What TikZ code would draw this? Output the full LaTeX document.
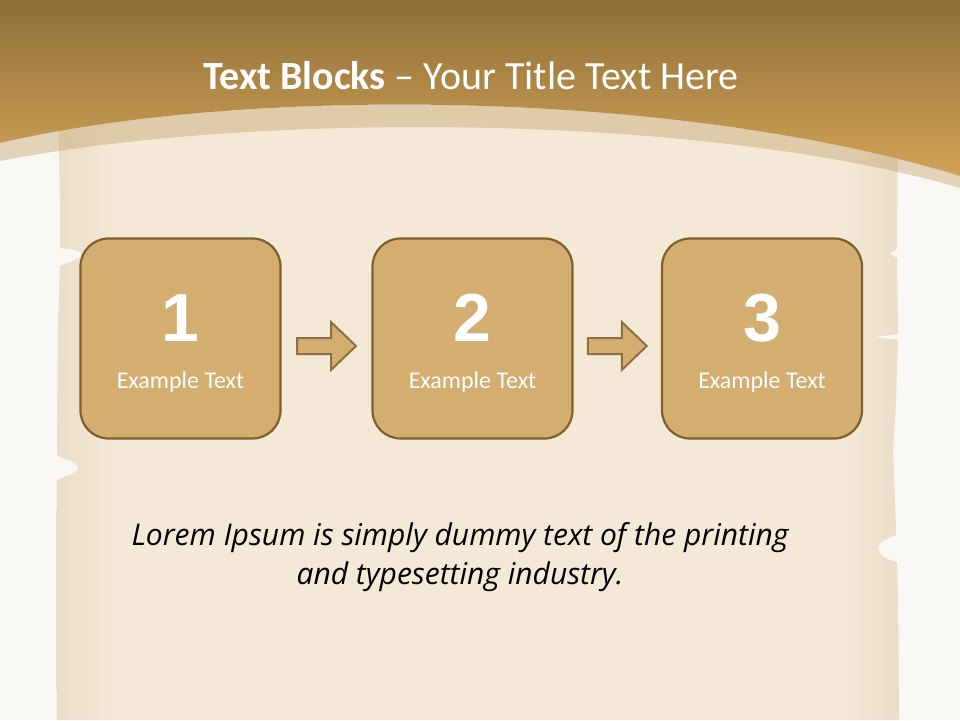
\documentclass[tikz,border=0pt]{standalone}
\usepackage{fontspec}
\setmainfont{Carlito}
\newfontfamily\numfont{Liberation Sans}
\newfontfamily\lorfont{Open Sans}
\usetikzlibrary{calc}
\definecolor{bgwhite}{HTML}{FAF8F4}
\definecolor{goldtop}{HTML}{8E6F38}
\definecolor{goldbot}{HTML}{D2A257}
\definecolor{parchE}{HTML}{EADCC7}
\definecolor{parchM}{HTML}{F4E9D7}
\definecolor{bandtan}{HTML}{C4A06C}
\definecolor{boxfill}{HTML}{D4AD70}
\definecolor{boxline}{HTML}{7F5F2A}
\definecolor{arrline}{HTML}{8F7045}
\tikzset{
  stepbox/.style={draw=boxline, line width=2.2pt, fill=boxfill, rounded corners=28pt,
    minimum width=200pt, minimum height=200pt, inner sep=0pt},
  numtext/.style={text=white, font=\numfont\bfseries\fontsize{68}{68}\selectfont},
  subtext/.style={text=white, font=\fontsize{24}{28}\selectfont},
  blockarrow/.style={draw=arrline, line width=2pt, fill=boxfill, line join=miter}
}
\begin{document}
\begin{tikzpicture}[x=1pt,y=-1pt]
\useasboundingbox (0,0) rectangle (960,720);
\fill[bgwhite] (0,0) rectangle (960,720);
% parchment
\begin{scope}
\path[clip]
  (58,90) -- (60,200) -- (60,248) .. controls (70,249) and (82,250) .. (81,255)
  .. controls (80,260) and (68,262) .. (60,266) -- (58,330) -- (57,455)
  .. controls (65,460) and (78,462) .. (78,468) .. controls (78,474) and (65,476) .. (57,480)
  -- (56,600) -- (57,720)
  -- (899,720) -- (898,600) -- (897,562) .. controls (888,560) and (878,556) .. (878,548)
  .. controls (878,542) and (888,538) .. (896,535) -- (893,450) -- (896,400) -- (898,340)
  .. controls (890,339) and (880,338) .. (874,337) .. controls (880,336) and (890,335) .. (898,334)
  -- (897,258) .. controls (893,256) and (890,254) .. (890,253)
  .. controls (892,252) and (895,250) .. (897,248) -- (898,90) -- cycle;
\fill[parchM] (0,0) rectangle (960,720);
\shade[left color=parchE, right color=parchM] (50,0) rectangle (115,720);
\shade[left color=parchM, right color=parchE] (845,0) rectangle (900,720);
\end{scope}
% header
\shade[top color=goldtop, bottom color=goldbot]
  (0,0) -- (960,0) -- (960,176) .. controls (680,90) and (250,85) .. (0,143) -- cycle;
% translucent band
\fill[bandtan, opacity=0.42]
  (0,143) .. controls (250,85) and (680,90) .. (960,176) -- (960,188)
  .. controls (700,112) and (250,112) .. (0,161) -- cycle;
% title
\node[text=white, font=\fontsize{40}{46}\selectfont] (title) at (471,76)
  {\textbf{Text Blocks} – Your Title Text Here};
% boxes
\node[stepbox] (b1) at (180.5,338.5) {};
\node[stepbox] (b2) at (472.5,338.5) {};
\node[stepbox] (b3) at (762,338.5) {};
\foreach \b/\n in {b1/1,b2/2,b3/3}{
  \node[numtext] (\b n) at ([yshift=20.5pt]\b.center) {\n};
  \node[subtext] (\b t) at ([yshift=-43.5pt]\b.center) {Example Text};
}
% arrows
\coordinate (a1) at ($(b1.east)!0.5!(b2.west)+(0,7.5)$);
\coordinate (a2) at ($(b2.east)!0.5!(b3.west)+(0,7.5)$);
\foreach \a in {a1,a2}{
  \draw[blockarrow, shift={(\a)}] (-29.5,-8) -- (4.5,-8) -- (4.5,-24) -- (29.5,0)
    -- (4.5,24) -- (4.5,8) -- (-29.5,8) -- cycle;
}
% lorem
\node[font=\lorfont\itshape\fontsize{30}{39}\selectfont, align=center] (lorem) at (460,557)
  {Lorem Ipsum is simply dummy text of the printing\\and typesetting industry.};
\end{tikzpicture}
\end{document}
